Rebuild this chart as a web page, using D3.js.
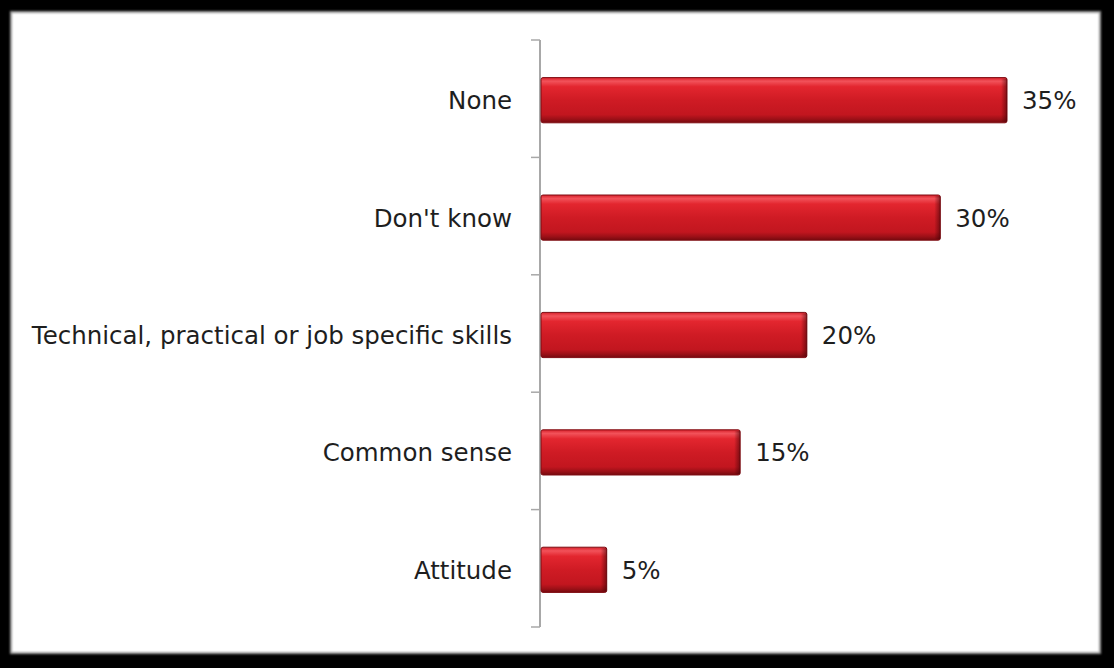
<!DOCTYPE html>
<html>
<head>
<meta charset="utf-8">
<script src="https://cdn.jsdelivr.net/npm/d3@7/dist/d3.min.js"></script>
<style>
  html, body { margin: 0; padding: 0; background: #000; }
  svg { display: block; }
</style>
</head>
<body>
<svg id="chart" width="1114" height="668"></svg>
<script>
// Survey responses, drawn top to bottom
const categories = ["None", "Don't know", "Technical, practical or job specific skills", "Common sense", "Attitude"];
const values = [35, 30, 20, 15, 5];
const valueLabels = ["35%", "30%", "20%", "15%", "5%"];

const W = 1114, H = 668;
const svg = d3.select("#chart");
const defs = svg.append("defs");

// Soft inner edge of the white panel
const f = defs.append("filter").attr("id", "panelBlur").attr("x", "-5%").attr("y", "-5%").attr("width", "110%").attr("height", "110%");
f.append("feGaussianBlur").attr("stdDeviation", 1.0);

// Bevelled red fill for bars: bright top highlight, darker lower edge
const g1 = defs.append("linearGradient").attr("id", "barFill").attr("x1", 0).attr("y1", 0).attr("x2", 0).attr("y2", 1);
[[0, "#d8202a"], [0.08, "#f2525a"], [0.2, "#e3262f"], [0.5, "#cf1b24"], [0.82, "#c2161f"], [0.92, "#9c1017"], [1, "#750a0f"]]
  .forEach(([o, c]) => g1.append("stop").attr("offset", o).attr("stop-color", c));
// Darker right-hand edge of each bar
const g2 = defs.append("linearGradient").attr("id", "barEdge").attr("x1", 0).attr("y1", 0).attr("x2", 1).attr("y2", 0);
[[0, "#3a0004", 0], [1, "#3a0004", 0.55]]
  .forEach(([o, c, a]) => g2.append("stop").attr("offset", o).attr("stop-color", c).attr("stop-opacity", a));

// Black frame with white panel
svg.append("rect").attr("width", W).attr("height", H).attr("fill", "#000");
svg.append("rect").attr("x", 10).attr("y", 11).attr("width", 1091).attr("height", 643)
  .attr("fill", "#9a9a9a").attr("filter", "url(#panelBlur)");
svg.append("rect").attr("x", 12).attr("y", 13).attr("width", 1087).attr("height", 639)
  .attr("fill", "#fff").attr("filter", "url(#panelBlur)");

const axisX = 540;
const x = d3.scaleLinear().domain([0, 35]).range([axisX, 1007]);
const y = d3.scaleBand().domain(categories).range([41.5, 628.5]).paddingInner(0.615).paddingOuter(0.3075);

const plot = svg.append("g");
const font = "DejaVu Sans, Verdana, sans-serif";
const fontSize = 24.5;

// Vertical category axis with ticks at band boundaries
const boundaries = d3.range(categories.length + 1).map(i => 40 + i * (627 - 40) / categories.length);
plot.append("line").attr("x1", axisX).attr("x2", axisX).attr("y1", 40).attr("y2", 627)
  .attr("stroke", "#a8a8a8").attr("stroke-width", 2);
plot.selectAll("line.tick").data(boundaries).join("line").attr("class", "tick")
  .attr("x1", axisX - 9).attr("x2", axisX).attr("y1", d => d).attr("y2", d => d)
  .attr("stroke", "#a8a8a8").attr("stroke-width", 1.5);

// Category labels
plot.selectAll("text.cat").data(categories).join("text").attr("class", "cat")
  .attr("x", 512).attr("y", d => y(d) + y.bandwidth() / 2 + 9)
  .attr("text-anchor", "end")
  .attr("font-family", font).attr("font-size", fontSize)
  .attr("fill", "#1e1e1e").text(d => d);

// Bars
const bars = plot.selectAll("g.bar").data(categories).join("g").attr("class", "bar");
bars.append("rect")
  .attr("x", x(0) + 1).attr("y", d => y(d))
  .attr("width", (d, i) => x(values[i]) - x(0) - 1).attr("height", y.bandwidth())
  .attr("rx", 2).attr("fill", "url(#barFill)").attr("stroke", "#7f0c12").attr("stroke-width", 1);
bars.append("rect")
  .attr("x", (d, i) => x(values[i]) - 6).attr("y", d => y(d) + 1)
  .attr("width", 6).attr("height", y.bandwidth() - 2)
  .attr("fill", "url(#barEdge)");

// Value labels
plot.selectAll("text.val").data(categories).join("text").attr("class", "val")
  .attr("x", (d, i) => x(values[i]) + 15).attr("y", d => y(d) + y.bandwidth() / 2 + 9)
  .attr("font-family", font).attr("font-size", fontSize)
  .attr("fill", "#1e1e1e").text((d, i) => valueLabels[i]);
</script>
</body>
</html>
